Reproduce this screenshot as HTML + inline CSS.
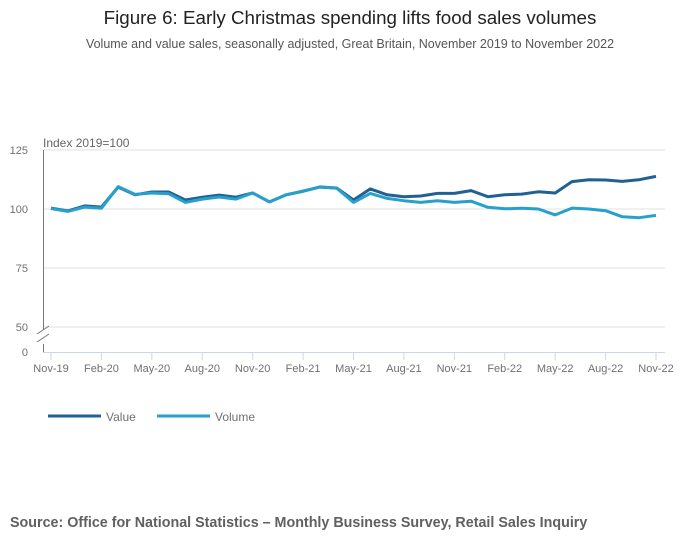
<!DOCTYPE html>
<html><head><meta charset="utf-8"><style>
body{margin:0;width:700px;height:549px;background:#fff;font-family:"Liberation Sans",sans-serif;overflow:hidden}
svg{position:absolute;left:0;top:0}
</style></head><body>
<svg id="chart" width="700" height="549">
<text x="350" y="24" text-anchor="middle" font-size="18.8" fill="#222">Figure 6: Early Christmas spending lifts food sales volumes</text>
<text x="350" y="48" text-anchor="middle" font-size="12.5" fill="#555">Volume and value sales, seasonally adjusted, Great Britain, November 2019 to November 2022</text>
<text x="43" y="147" font-size="12" fill="#666">Index 2019=100</text>
<g id="grid"></g><g id="axes"></g><g id="series"></g>
<g>
<line x1="48" y1="416" x2="101" y2="416" stroke="#206095" stroke-width="3"/>
<text x="106" y="421" font-size="12" fill="#707070">Value</text>
<line x1="157" y1="416" x2="210" y2="416" stroke="#27a0cc" stroke-width="3"/>
<text x="215" y="421" font-size="12" fill="#707070">Volume</text>
</g>
<text x="10" y="527" font-size="14.3" font-weight="bold" fill="#606060">Source: Office for National Statistics – Monthly Business Survey, Retail Sales Inquiry</text>
</svg>
<script>
const months = ["Nov-19","Dec-19","Jan-20","Feb-20","Mar-20","Apr-20","May-20","Jun-20","Jul-20","Aug-20","Sep-20","Oct-20","Nov-20","Dec-20","Jan-21","Feb-21","Mar-21","Apr-21","May-21","Jun-21","Jul-21","Aug-21","Sep-21","Oct-21","Nov-21","Dec-21","Jan-22","Feb-22","Mar-22","Apr-22","May-22","Jun-22","Jul-22","Aug-22","Sep-22","Oct-22","Nov-22"];
const valueSeries = [100.4,99.2,101.3,100.8,109.3,106,107.2,107.2,103.8,105,105.9,105,106.8,103,106,107.6,109.3,108.9,103.8,108.5,106,105.2,105.5,106.6,106.6,107.8,105.2,106,106.3,107.3,106.8,111.6,112.4,112.3,111.7,112.4,113.8];
const volumeSeries = [100.2,99,100.8,100.3,109.5,106.2,106.8,106.5,102.8,104.2,105.1,104.2,106.8,103,106,107.5,109.4,108.8,102.8,106.6,104.5,103.5,102.8,103.5,102.8,103.3,100.7,100.1,100.3,100,97.5,100.4,100,99.3,96.7,96.3,97.3];
const yTicks = [125,100,75,50];
const xTickLabels = ["Nov-19","Feb-20","May-20","Aug-20","Nov-20","Feb-21","May-21","Aug-21","Nov-21","Feb-22","May-22","Aug-22","Nov-22"];
const NS="http://www.w3.org/2000/svg";
const x0=51,x1=656,baseY=352;
function xs(i){return x0+(x1-x0)*i/(months.length-1);}
function ys(v){return 209-(v-100)*59/25;}
function mk(tag,attrs,parent){const e=document.createElementNS(NS,tag);for(const k in attrs)e.setAttribute(k,attrs[k]);parent.appendChild(e);return e;}
const grid=document.getElementById('grid'),axes=document.getElementById('axes'),ser=document.getElementById('series');
yTicks.forEach(t=>{
  const l=mk('line',{x1:43,x2:665,y1:ys(t),y2:ys(t),stroke:'#e0e0e0','stroke-width':1},grid);
  
  
  const tx=mk('text',{x:28,y:ys(t)+4,'text-anchor':'end','font-size':11,fill:'#707070'},grid);
  tx.textContent=t;
  
  
});
const z=mk('text',{x:28,y:baseY+4,'text-anchor':'end','font-size':11,fill:'#707070'},grid);z.textContent='0';


const ya=mk('path',{d:'M43.5 150 V330 M43.5 344 V'+baseY,stroke:'#777',fill:'none','stroke-width':1},axes);


const br=mk('path',{d:'M37 334 L49 326 M37 342 L49 334',stroke:'#777','stroke-width':1},axes);


const xa=mk('line',{x1:43,x2:665,y1:baseY+0.5,y2:baseY+0.5,stroke:'#ccd6eb'},axes);


xTickLabels.forEach(lb=>{
  const i=months.indexOf(lb),x=xs(i);
  const t=mk('line',{x1:x,x2:x,y1:baseY,y2:baseY+8,stroke:'#ccd6eb'},axes);
  
  
  const tx=mk('text',{x:x,y:baseY+20,'text-anchor':'middle','font-size':11,fill:'#707070'},axes);
  tx.textContent=lb;
  
  
});
function line(arr,color,name){
  const d=arr.map((v,i)=>(i?'L':'M')+xs(i).toFixed(1)+' '+ys(v).toFixed(1)).join(' ');
  const p=mk('path',{d:d,stroke:color,'stroke-width':3,fill:'none','stroke-linejoin':'round'},ser);
  
  
}
line(valueSeries,'#206095','value-line');
line(volumeSeries,'#27a0cc','volume-line');
</script>
</body></html>
